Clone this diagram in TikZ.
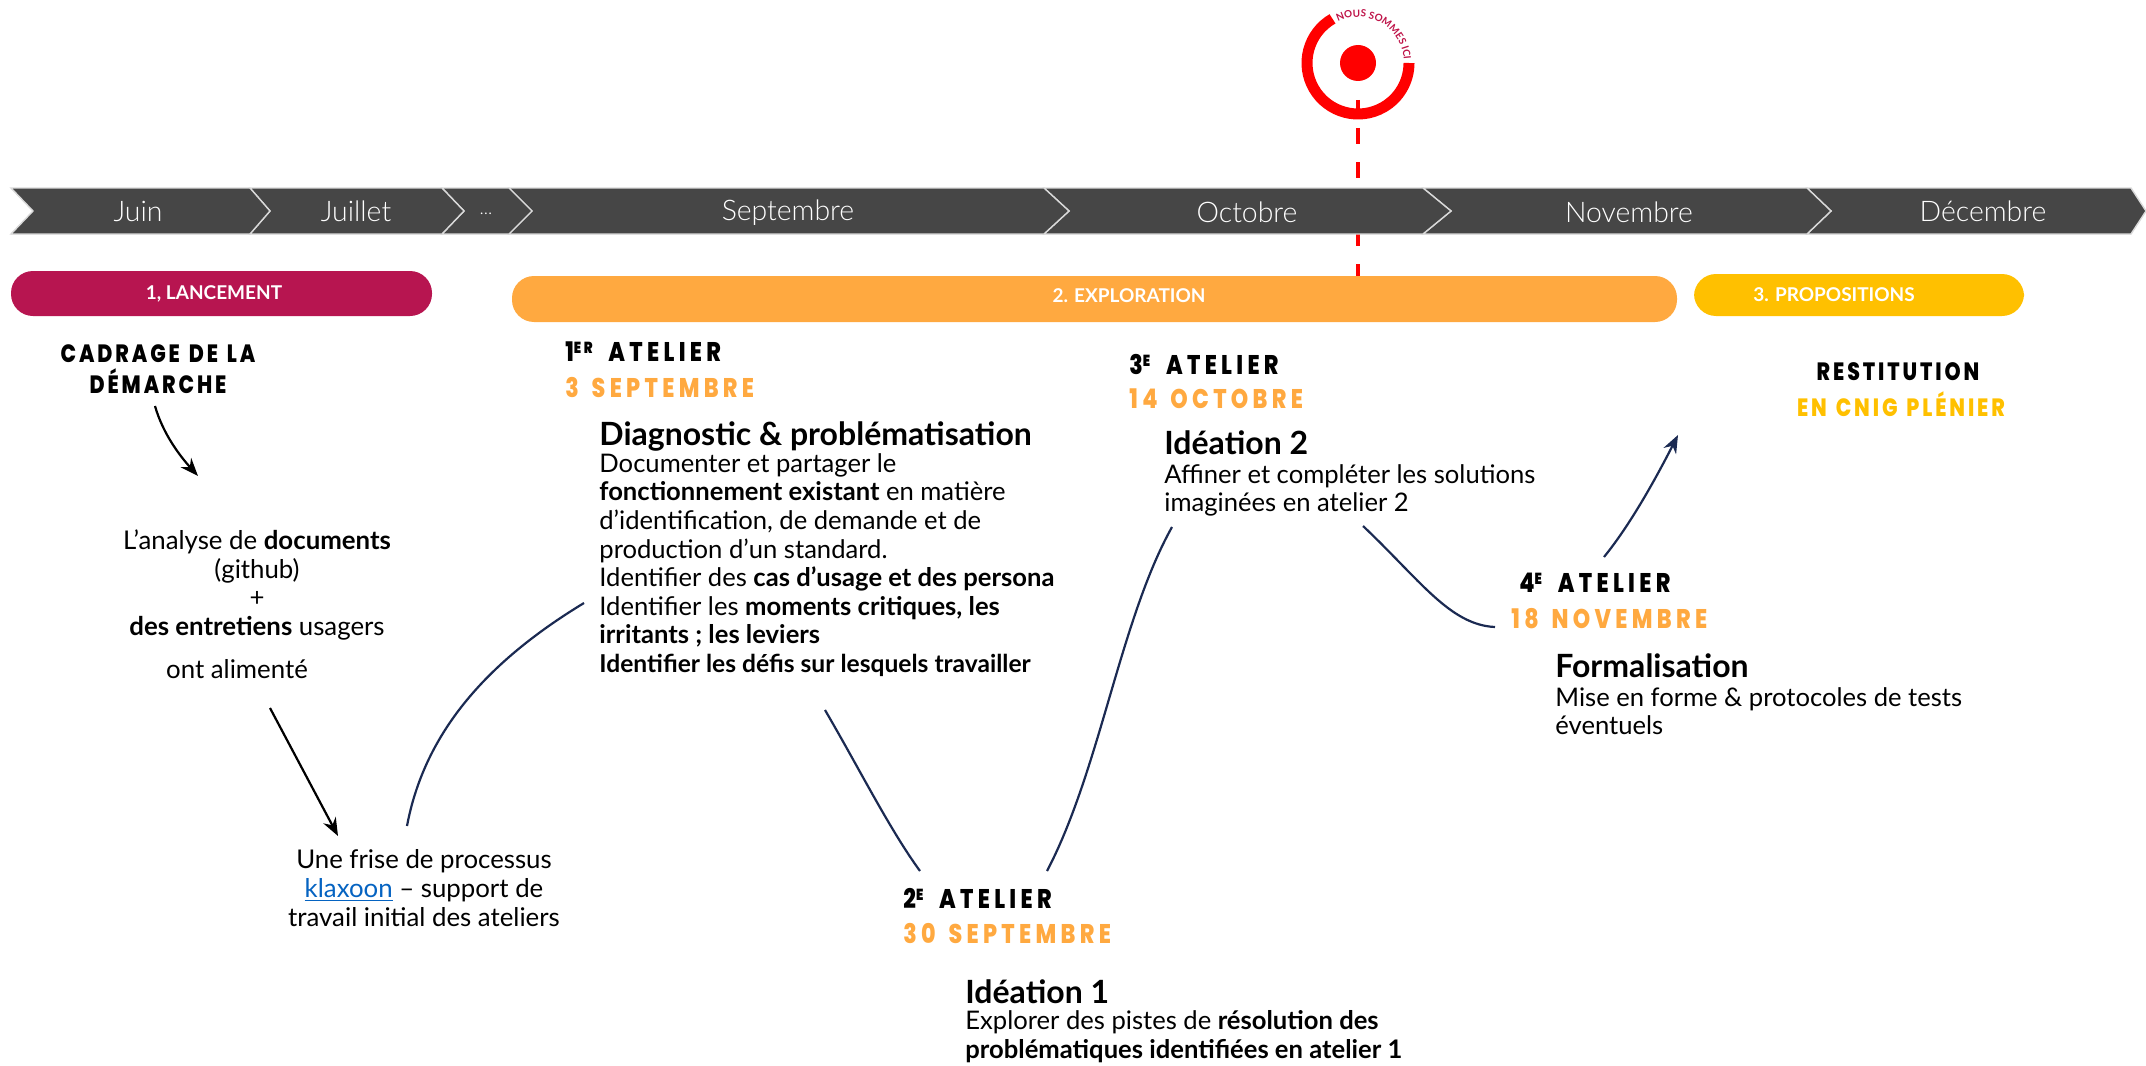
\documentclass[tikz,border=0pt]{standalone}
\usepackage{fontspec}
\setmainfont{Lato}
\newfontfamily\handfont[LetterSpace=16,FakeStretch=0.82,WordSpace=1.5]{Poppins ExtraBold}
\newfontfamily\handcfont[LetterSpace=11.6,FakeStretch=0.82,WordSpace=1.3]{Poppins ExtraBold}
\newfontfamily\monthfont{Lato Light}
\usetikzlibrary{arrows.meta,decorations.text}
\definecolor{band}{HTML}{464646}
\definecolor{crimson}{HTML}{B71550}
\definecolor{orangep}{HTML}{FFA940}
\definecolor{yellowp}{HTML}{FFC000}
\definecolor{navy}{HTML}{1B2A52}
\definecolor{linkblue}{HTML}{0563C1}
\definecolor{redt}{HTML}{FF0000}
\tikzset{
 x=0.5pt,y=-0.5pt,
 chev/.style={fill=band,draw=white!85!black,line width=0.7pt},
 month/.style={text=white,font=\monthfont\fontsize{14.2}{16}\selectfont,inner sep=0pt},
 pill/.style={rounded corners=11pt},
 pilltext/.style={text=white,font=\fontsize{9.5}{11}\selectfont\bfseries,inner sep=0pt},
 hand/.style={font=\handfont\fontsize{13.5}{15}\selectfont,inner sep=0pt,anchor=west},
 handc/.style={font=\handcfont\fontsize{12.5}{15.5}\selectfont,inner sep=0pt,align=center},
 head/.style={font=\fontsize{16}{18}\selectfont\bfseries,inner sep=0pt,anchor=west},
 body/.style={font=\fontsize{12.8}{14.3}\selectfont,inner sep=0pt,anchor=north west,align=left},
 bodyc/.style={font=\fontsize{12.9}{14.4}\selectfont,inner sep=0pt,align=center},
 link/.style={draw=navy,line width=1.1pt},
 arrowb/.style={draw=black,line width=1.1pt,-{Stealth[length=9pt,width=7pt]}},
 arrown/.style={draw=navy,line width=1.1pt,-{Stealth[length=9pt,width=7pt]}},
}
\newcommand{\sups}[1]{\raisebox{4pt}{\fontsize{8}{9}\selectfont\bfseries #1}\hspace{1.5pt}}
\begin{document}
\begin{tikzpicture}
\useasboundingbox (0,0) rectangle (2146,1065);
% target
\coordinate (targetc) at (1358,63);
\coordinate (dashs) at (1358,100);
\coordinate (dashe) at (1358,277);
\draw[redt,line width=2pt,dash pattern=on 8pt off 9pt,dash phase=3pt] (dashs) -- (dashe);
\fill[redt] (targetc) circle[radius=9pt];
\begin{scope}[shift={(targetc)},x=0.5pt,y=0.5pt]
\draw[redt,line width=5.5pt] (120:51) arc[start angle=120,end angle=360,radius=51];
\path[decorate,decoration={text along path,text color=crimson!90!red,
  text={|\fontsize{5}{7}\selectfont\bfseries|NOUS SOMMES ICI}}]
  (116:46) arc[start angle=116,end angle=-80,radius=46];
\end{scope}
% chevrons
\draw[chev] (2131,188)--(2146,211)--(2131,234)--(1807,234)--(1831,211)--(1807,188)--cycle;
\draw[chev] (1807,188)--(1831,211)--(1807,234)--(1423,234)--(1451,211)--(1423,188)--cycle;
\draw[chev] (1423,188)--(1451,211)--(1423,234)--(1044,234)--(1069,211)--(1044,188)--cycle;
\draw[chev] (1044,188)--(1069,211)--(1044,234)--(509,234)--(532,211)--(509,188)--cycle;
\draw[chev] (509,188)--(532,211)--(509,234)--(442,234)--(464,211)--(442,188)--cycle;
\draw[chev] (442,188)--(464,211)--(442,234)--(250,234)--(270,211)--(250,188)--cycle;
\draw[chev] (250,188)--(270,211)--(250,234)--(11,234)--(33,211)--(11,188)--cycle;
\node[month] (juin) at (138,211) {Juin};
\node[month] (juil) at (356,211) {Juillet};
\node[month] (dots) at (486,214) {\fontsize{9}{10}\selectfont ...};
\node[month] (sept) at (788,213) {Septembre};
\node[month] (octo) at (1247,212) {Octobre};
\node[month] (nove) at (1629,212) {Novembre};
\node[month] (dece) at (1983,211) {Décembre};
% pills
\fill[crimson] (11,271) [pill] rectangle (432,316);
\fill[orangep] (512,276) [pill] rectangle (1677,322);
\fill[yellowp] (1694,274) [pill] rectangle (2024,316);
\node[pilltext] (p1) at (214,294) {1, LANCEMENT};
\node[pilltext] (p2) at (1129,296) {2. EXPLORATION};
\node[pilltext] (p3) at (1834,295) {3. PROPOSITIONS};
% left column
\node[handc] (cadrage) at (158,369) {CADRAGE DE LA\\DÉMARCHE};
\node[bodyc] (analyse) at (257,585) {L’analyse de \textbf{documents}\\(github)\\+\\\textbf{des entretiens} usagers};
\node[bodyc] (alim) at (237,669) {ont alimenté};
\node[bodyc] (frise) at (424,888) {Une frise de processus\\{\color{linkblue}\underline{klaxoon}} – support de\\travail initial des ateliers};
\coordinate (a1s) at (155,406); \coordinate (a1e) at (198,476);
\coordinate (a2s) at (270,708); \coordinate (a2e) at (338,836);
\coordinate (l1s) at (407,826); \coordinate (l1e) at (584,603);
\draw[arrowb] (a1s) .. controls (163,434) and (180,456) .. (a1e);
\draw[arrowb] (a2s) -- (a2e);
\draw[link] (l1s) .. controls (425,730) and (490,660) .. (l1e);
% atelier 1
\node[hand] (a1t) at (565,352) {1\sups{ER} ATELIER};
\node[hand,text=orangep] (a1d) at (565,388) {3 SEPTEMBRE};
\node[head] (a1h) at (599,436) {Diagnostic \& problématisation};
\node[body] (a1b) at (599,453) {Documenter et partager le\\\textbf{fonctionnement existant} en matière\\d’identification, de demande et de\\production d’un standard.\\Identifier des \textbf{cas d’usage et des persona}\\Identifier les \textbf{moments critiques, les}\\\textbf{irritants ; les leviers}\\{\fontsize{12.3}{14.3}\selectfont\bfseries Identifier les défis sur lesquels travailler}};
% atelier 2
\coordinate (l2s) at (825,710); \coordinate (l2e) at (920,871);
\draw[link] (l2s) .. controls (860,770) and (890,830) .. (l2e);
\node[hand] (a2t) at (903,898) {2\sups{E} ATELIER};
\node[hand,text=orangep] (a2d) at (903,933) {30 SEPTEMBRE};
\node[head] (a2h) at (965,992) {Idéation 1};
\node[body] (a2b) at (965,1010) {Explorer des pistes de \textbf{résolution des}\\\textbf{problématiques identifiées en atelier 1}};
% atelier 3
\coordinate (l3s) at (1047,871); \coordinate (l3e) at (1172,527);
\draw[link] (l3s) .. controls (1100,770) and (1120,620) .. (l3e);
\node[hand] (a3t) at (1129,364) {3\sups{E} ATELIER};
\node[hand,text=orangep] (a3d) at (1129,399) {14 OCTOBRE};
\node[head] (a3h) at (1164,443) {Idéation 2};
\node[body] (a3b) at (1164,464) {Affiner et compléter les solutions\\imaginées en atelier 2};
% atelier 4
\coordinate (l4s) at (1363,526); \coordinate (l4e) at (1495,627);
\draw[link] (l4s) .. controls (1420,580) and (1450,625) .. (l4e);
\node[hand] (a4t) at (1519,583) {4\sups{E} ATELIER};
\node[hand,text=orangep] (a4d) at (1511,619) {18 NOVEMBRE};
\node[head] (a4h) at (1555,666) {Formalisation};
\node[body] (a4b) at (1555,687) {Mise en forme \& protocoles de tests\\éventuels};
\coordinate (a3s) at (1604,557); \coordinate (a3e) at (1678,435);
\draw[arrown] (a3s) .. controls (1630,525) and (1655,480) .. (a3e);
% restitution
\node[handc] (rest) at (1898,372) {RESTITUTION};
\node[handc,text=yellowp] (rest2) at (1901,404) {EN CNIG PLÉNIER};
\end{tikzpicture}
\end{document}
